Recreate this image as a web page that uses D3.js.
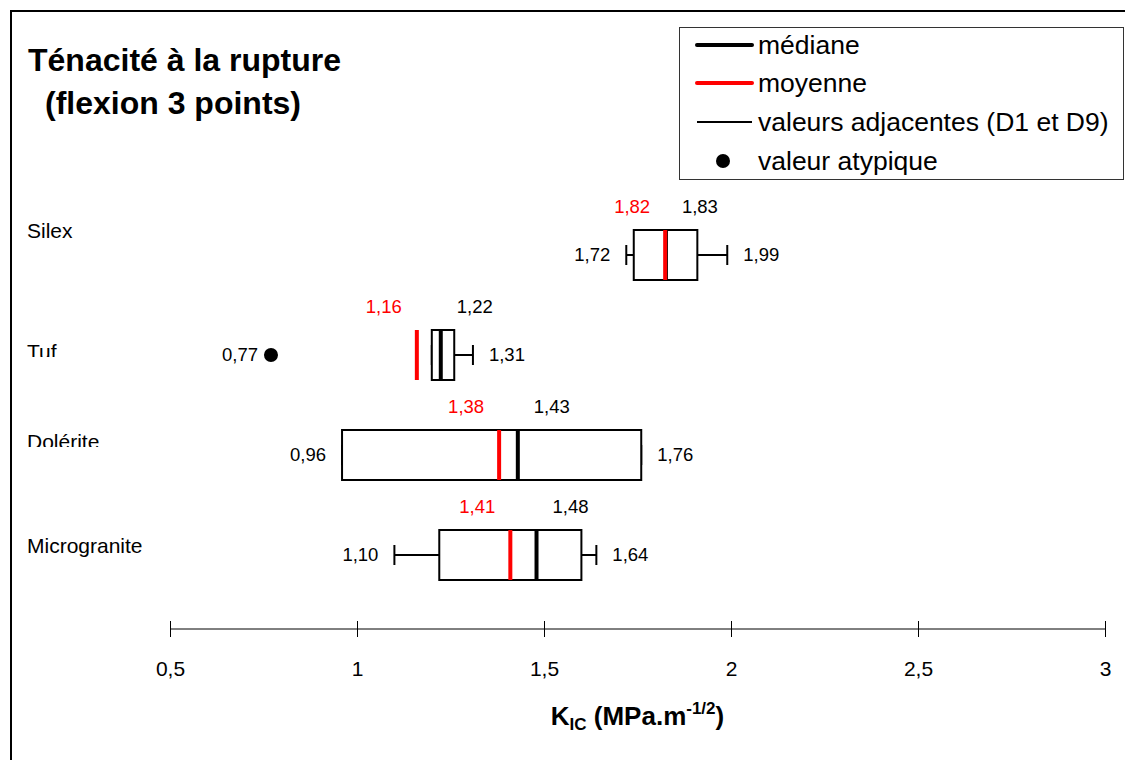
<!DOCTYPE html>
<html>
<head>
<meta charset="utf-8">
<script src="https://cdn.jsdelivr.net/npm/d3@7"></script>
<style>
  html, body { margin: 0; padding: 0; background: #fff; }
  svg { display: block; font-family: "Liberation Sans", Arial, sans-serif; }
</style>
</head>
<body>
<svg id="chart" width="1125" height="760"></svg>
<script>
// ---------- data ----------
const categories = ["Silex", "Tuf", "Dolérite", "Microgranite"];
const d1Values     = [1.72, 1.20, 0.96, 1.10];
const q1Values     = [1.74, 1.20, 0.96, 1.22];
const medianValues = [1.826, 1.224, 1.43, 1.48];
const meanValues   = [1.824, 1.16, 1.38, 1.41];
const q3Values     = [1.91, 1.26, 1.76, 1.60];
const d9Values     = [1.99, 1.31, 1.76, 1.64];
const outlierCategories = ["Tuf"];
const outlierValues     = [0.77];
const tickValues = [0.5, 1, 1.5, 2, 2.5, 3];
const tickLabels = ["0,5", "1", "1,5", "2", "2,5", "3"];
const titleLines = ["Ténacité à la rupture", "(flexion 3 points)"];
const legendLabels = ["médiane", "moyenne", "valeurs adjacentes (D1 et D9)", "valeur atypique"];

// ---------- layout ----------
const svg = d3.select("#chart");
const fr = d3.formatLocale({decimal: ",", thousands: " ", grouping: [3], currency: ["", ""]});
const fmt = fr.format(".2f");

const x = d3.scaleLinear().domain([0.5, 3]).range([170, 1105]);
const y = d3.scaleBand().domain(categories).range([205, 605]);
const boxH = y.bandwidth() * 0.5;
const axisY = 629;

const rows = categories.map((c, i) => ({
  cat: c, d1: d1Values[i], q1: q1Values[i], med: medianValues[i],
  mean: meanValues[i], q3: q3Values[i], d9: d9Values[i]
}));
const outliers = outlierCategories.map((c, i) => ({cat: c, v: outlierValues[i]}));

// outer frame
svg.append("rect").attr("x", 11).attr("y", 11).attr("width", 1130).attr("height", 770)
  .attr("fill", "none").attr("stroke", "#000").attr("stroke-width", 2);

// title
svg.append("text").attr("x", 28).attr("y", 71).attr("font-size", 32).attr("font-weight", "bold")
  .text(titleLines[0]);
svg.append("text").attr("x", 45).attr("y", 114).attr("font-size", 32).attr("font-weight", "bold")
  .text(titleLines[1]);

// legend
const lg = svg.append("g");
lg.append("rect").attr("x", 679.5).attr("y", 27.5).attr("width", 444).attr("height", 152)
  .attr("fill", "#fff").attr("stroke", "#333").attr("stroke-width", 1);
const legendY = [45, 83, 122, 161];
lg.append("line").attr("x1", 697).attr("x2", 752).attr("y1", legendY[0]).attr("y2", legendY[0])
  .attr("stroke", "#000").attr("stroke-width", 4).attr("stroke-linecap", "round");
lg.append("line").attr("x1", 697).attr("x2", 752).attr("y1", legendY[1]).attr("y2", legendY[1])
  .attr("stroke", "#ff0000").attr("stroke-width", 4).attr("stroke-linecap", "round");
lg.append("line").attr("x1", 697).attr("x2", 752).attr("y1", legendY[2]).attr("y2", legendY[2])
  .attr("stroke", "#000").attr("stroke-width", 2);
lg.append("circle").attr("cx", 723).attr("cy", legendY[3]).attr("r", 7).attr("fill", "#000");
lg.selectAll("text.lt").data(legendLabels).join("text").attr("class", "lt")
  .attr("x", 758).attr("y", (d, i) => legendY[i] + 9).attr("font-size", 26.5).text(d => d);

// category labels
const labelNudge = {"Silex": -17, "Tuf": 4, "Dolérite": -6, "Microgranite": -2};
const labelClip = {"Tuf": 2, "Dolérite": 2};
const defs = svg.append("defs");
categories.forEach((c, i) => {
  const cy = y(c) + y.bandwidth() / 2;
  const base = cy + labelNudge[c];
  const t = svg.append("text").attr("x", 27).attr("y", base).attr("font-size", 21).text(c);
  if (labelClip[c]) {
    defs.append("clipPath").attr("id", "clip" + i).append("rect")
      .attr("x", 0).attr("y", base - 40).attr("width", 200).attr("height", 40 - labelClip[c]);
    t.attr("clip-path", `url(#clip${i})`);
  }
});

// boxes
const g = svg.append("g");
rows.forEach(r => {
  const cy = y(r.cat) + y.bandwidth() / 2;
  const top = cy - boxH / 2;
  g.append("line").attr("x1", x(r.d1)).attr("x2", x(r.q1)).attr("y1", cy).attr("y2", cy)
    .attr("stroke", "#000").attr("stroke-width", 2);
  g.append("line").attr("x1", x(r.q3)).attr("x2", x(r.d9)).attr("y1", cy).attr("y2", cy)
    .attr("stroke", "#000").attr("stroke-width", 2);
  [r.d1, r.d9].forEach(v => {
    g.append("line").attr("x1", x(v)).attr("x2", x(v)).attr("y1", cy - 10).attr("y2", cy + 10)
      .attr("stroke", "#000").attr("stroke-width", 2);
  });
  g.append("rect").attr("x", x(r.q1)).attr("y", top).attr("width", x(r.q3) - x(r.q1)).attr("height", boxH)
    .attr("fill", "#fff").attr("stroke", "#000").attr("stroke-width", 2);
  g.append("line").attr("x1", x(r.med)).attr("x2", x(r.med)).attr("y1", top).attr("y2", top + boxH)
    .attr("stroke", "#000").attr("stroke-width", 4);
  g.append("line").attr("x1", x(r.mean)).attr("x2", x(r.mean)).attr("y1", top).attr("y2", top + boxH)
    .attr("stroke", "#ff0000").attr("stroke-width", 4);
  g.append("text").attr("x", x(r.mean) - 33).attr("y", top - 17).attr("text-anchor", "middle")
    .attr("font-size", 18.5).attr("fill", "#ff0000").text(fmt(r.mean));
  g.append("text").attr("x", x(r.med) + 34).attr("y", top - 17).attr("text-anchor", "middle")
    .attr("font-size", 18.5).attr("fill", "#000").text(fmt(r.med));
  const out = outliers.find(o => o.cat === r.cat);
  const lowV = out ? out.v : r.d1;
  g.append("text").attr("x", x(lowV) - (out ? 13 : 16)).attr("y", cy + 6).attr("text-anchor", "end")
    .attr("font-size", 18.5).text(fmt(lowV));
  g.append("text").attr("x", x(r.d9) + 16).attr("y", cy + 6).attr("text-anchor", "start")
    .attr("font-size", 18.5).text(fmt(r.d9));
});
g.selectAll("circle.out").data(outliers).join("circle").attr("class", "out")
  .attr("cx", d => x(d.v)).attr("cy", d => y(d.cat) + y.bandwidth() / 2).attr("r", 7).attr("fill", "#000");

// axis
const axis = d3.axisBottom(x).tickValues(tickValues).tickSize(8)
  .tickFormat((d, i) => tickLabels[i]);
const ax = svg.append("g").attr("transform", `translate(0,${axisY})`).call(axis);
ax.attr("font-size", 21).attr("font-family", "Liberation Sans, Arial, sans-serif");
ax.select(".domain").attr("stroke", "#000").attr("d", `M${x(0.5)},0H${x(3)}`);
ax.selectAll(".tick line").attr("y1", -8).attr("y2", 8).attr("stroke", "#000");
ax.selectAll(".tick text").attr("y", 32).attr("dy", "0.71em").attr("fill", "#000");

// axis title
const at = svg.append("text").attr("x", (x(0.5) + x(3)) / 2).attr("y", 725)
  .attr("text-anchor", "middle").attr("font-size", 26).attr("font-weight", "bold");
at.append("tspan").text("K");
at.append("tspan").attr("font-size", 17).attr("dy", 5).text("IC");
at.append("tspan").attr("dy", -5).text(" (MPa.m");
at.append("tspan").attr("font-size", 17).attr("dy", -11).text("-1/2");
at.append("tspan").attr("dy", 11).text(")");
</script>
</body>
</html>
